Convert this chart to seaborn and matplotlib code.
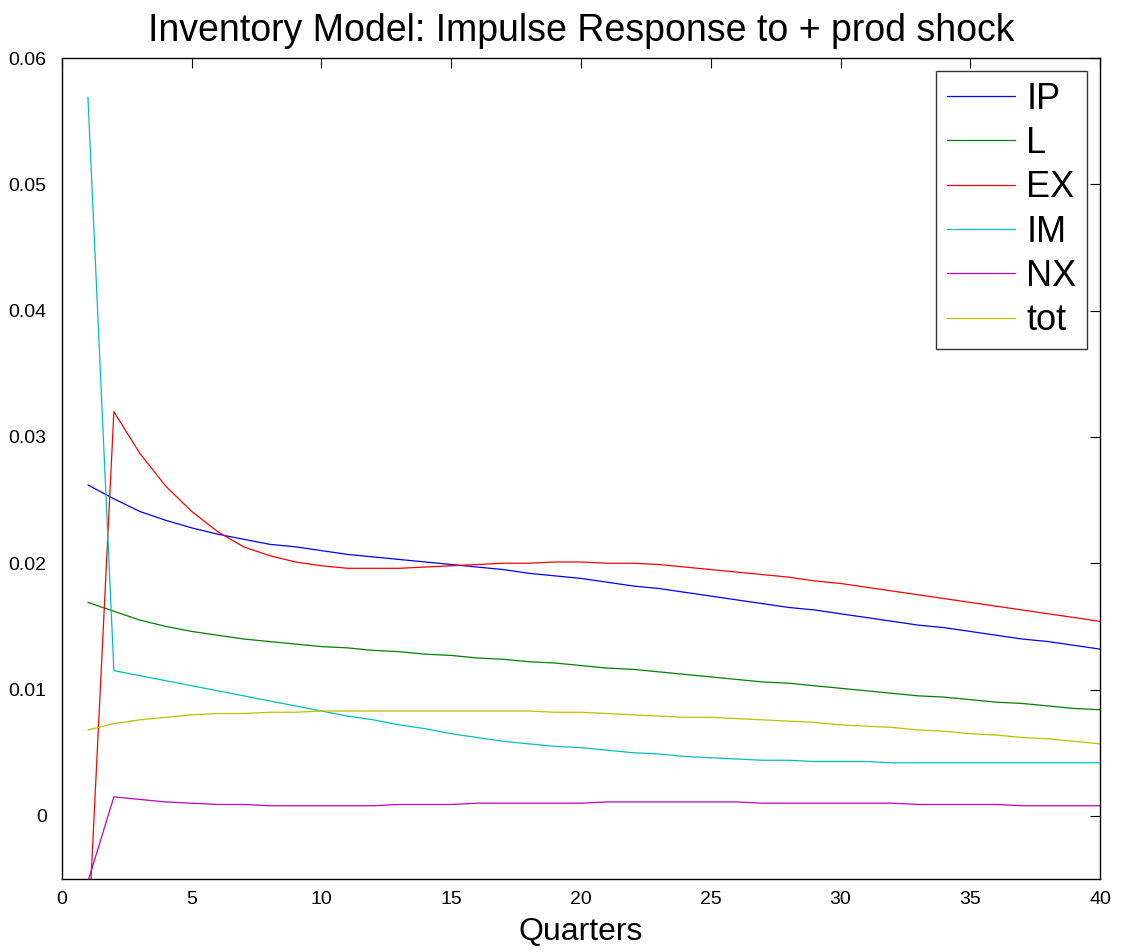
import numpy as np
import pandas as pd
import matplotlib
matplotlib.use("Agg")
import matplotlib.pyplot as plt
import seaborn as sns

quarters = list(range(1, 41))

IP = [0.0262, 0.0251, 0.0241, 0.0234, 0.0228, 0.0223, 0.0219, 0.0215, 0.0213, 0.0210,
      0.0207, 0.0205, 0.0203, 0.0201, 0.0199, 0.0197, 0.0195, 0.0192, 0.0190, 0.0188,
      0.0185, 0.0182, 0.0180, 0.0177, 0.0174, 0.0171, 0.0168, 0.0165, 0.0163, 0.0160,
      0.0157, 0.0154, 0.0151, 0.0149, 0.0146, 0.0143, 0.0140, 0.0138, 0.0135, 0.0132]
L = [0.0169, 0.0162, 0.0155, 0.0150, 0.0146, 0.0143, 0.0140, 0.0138, 0.0136, 0.0134,
     0.0133, 0.0131, 0.0130, 0.0128, 0.0127, 0.0125, 0.0124, 0.0122, 0.0121, 0.0119,
     0.0117, 0.0116, 0.0114, 0.0112, 0.0110, 0.0108, 0.0106, 0.0105, 0.0103, 0.0101,
     0.0099, 0.0097, 0.0095, 0.0094, 0.0092, 0.0090, 0.0089, 0.0087, 0.0085, 0.0084]
EX = [-0.0100, 0.0320, 0.0287, 0.0261, 0.0241, 0.0225, 0.0213, 0.0206, 0.0201, 0.0198,
      0.0196, 0.0196, 0.0196, 0.0197, 0.0198, 0.0199, 0.0200, 0.0200, 0.0201, 0.0201,
      0.0200, 0.0200, 0.0199, 0.0197, 0.0195, 0.0193, 0.0191, 0.0189, 0.0186, 0.0184,
      0.0181, 0.0178, 0.0175, 0.0172, 0.0169, 0.0166, 0.0163, 0.0160, 0.0157, 0.0154]
IM = [0.0569, 0.0115, 0.0111, 0.0107, 0.0103, 0.0099, 0.0095, 0.0091, 0.0087, 0.0083,
      0.0079, 0.0076, 0.0072, 0.0069, 0.0065, 0.0062, 0.0059, 0.0057, 0.0055, 0.0054,
      0.0052, 0.0050, 0.0049, 0.0047, 0.0046, 0.0045, 0.0044, 0.0044, 0.0043, 0.0043,
      0.0043, 0.0042, 0.0042, 0.0042, 0.0042, 0.0042, 0.0042, 0.0042, 0.0042, 0.0042]
NX = [-0.0052, 0.0015, 0.0013, 0.0011, 0.0010, 0.0009, 0.0009, 0.0008, 0.0008, 0.0008,
      0.0008, 0.0008, 0.0009, 0.0009, 0.0009, 0.0010, 0.0010, 0.0010, 0.0010, 0.0010,
      0.0011, 0.0011, 0.0011, 0.0011, 0.0011, 0.0011, 0.0010, 0.0010, 0.0010, 0.0010,
      0.0010, 0.0010, 0.0009, 0.0009, 0.0009, 0.0009, 0.0008, 0.0008, 0.0008, 0.0008]
tot = [0.0068, 0.0073, 0.0076, 0.0078, 0.0080, 0.0081, 0.0081, 0.0082, 0.0082, 0.0083,
       0.0083, 0.0083, 0.0083, 0.0083, 0.0083, 0.0083, 0.0083, 0.0083, 0.0082, 0.0082,
       0.0081, 0.0080, 0.0079, 0.0078, 0.0078, 0.0077, 0.0076, 0.0075, 0.0074, 0.0072,
       0.0071, 0.0070, 0.0068, 0.0067, 0.0065, 0.0064, 0.0062, 0.0061, 0.0059, 0.0057]

series_names = ["IP", "L", "EX", "IM", "NX", "tot"]
series_values = [IP, L, EX, IM, NX, tot]
colors = ["#0000ff", "#008000", "#ff0000", "#00bfbf", "#bf00bf", "#bfbf00"]

x_ticks = [0, 5, 10, 15, 20, 25, 30, 35, 40]
y_ticks = [0, 0.01, 0.02, 0.03, 0.04, 0.05, 0.06]
y_tick_labels = ["0", "0.01", "0.02", "0.03", "0.04", "0.05", "0.06"]

df = pd.concat(
    [pd.DataFrame({"Quarter": quarters, "value": v, "series": n})
     for n, v in zip(series_names, series_values)],
    ignore_index=True,
)

sns.set_style("white")
plt.rcParams["font.family"] = ["Liberation Sans", "DejaVu Sans"]
plt.rcParams["text.color"] = "black"
plt.rcParams["axes.labelcolor"] = "black"
plt.rcParams["xtick.color"] = "black"
plt.rcParams["ytick.color"] = "black"

fig = plt.figure(figsize=(11.25, 9.52), dpi=100)
ax = fig.add_axes([0.0551, 0.0767, 0.9227, 0.8623])

sns.lineplot(data=df, x="Quarter", y="value", hue="series",
             hue_order=series_names, palette=colors, linewidth=0.9,
             ax=ax, legend=True)

ax.set_xlim(0, 40)
ax.set_ylim(-0.005, 0.06)
ax.set_xticks(x_ticks)
ax.set_xticklabels([str(t) for t in x_ticks])
ax.set_yticks(y_ticks)
ax.set_yticklabels(y_tick_labels)
ax.tick_params(direction="in", length=7, width=0.8, top=True, right=True,
               labelsize=14, colors="black")
ax.tick_params(axis="y", pad=11)
ax.tick_params(axis="x", pad=9)
for s in ax.spines.values():
    s.set_visible(True)
    s.set_color("black")
    s.set_linewidth(1.0)

ax.set_xlabel("Quarters", fontsize=23, labelpad=6, color="black")
ax.set_ylabel("")
ax.set_title("Inventory Model: Impulse Response to + prod shock", fontsize=27,
             pad=12, color="black")

leg = ax.legend(loc="upper right", fontsize=26, frameon=True, fancybox=False,
                edgecolor="black", handlelength=1.9, handletextpad=0.3,
                labelspacing=0.26, borderpad=0.3, borderaxespad=0.35)
leg.get_frame().set_linewidth(1.0)
for line in leg.get_lines():
    line.set_linewidth(0.9)
for t in leg.get_texts():
    t.set_color("black")

fig.savefig("out.png", dpi=100, facecolor="white")
